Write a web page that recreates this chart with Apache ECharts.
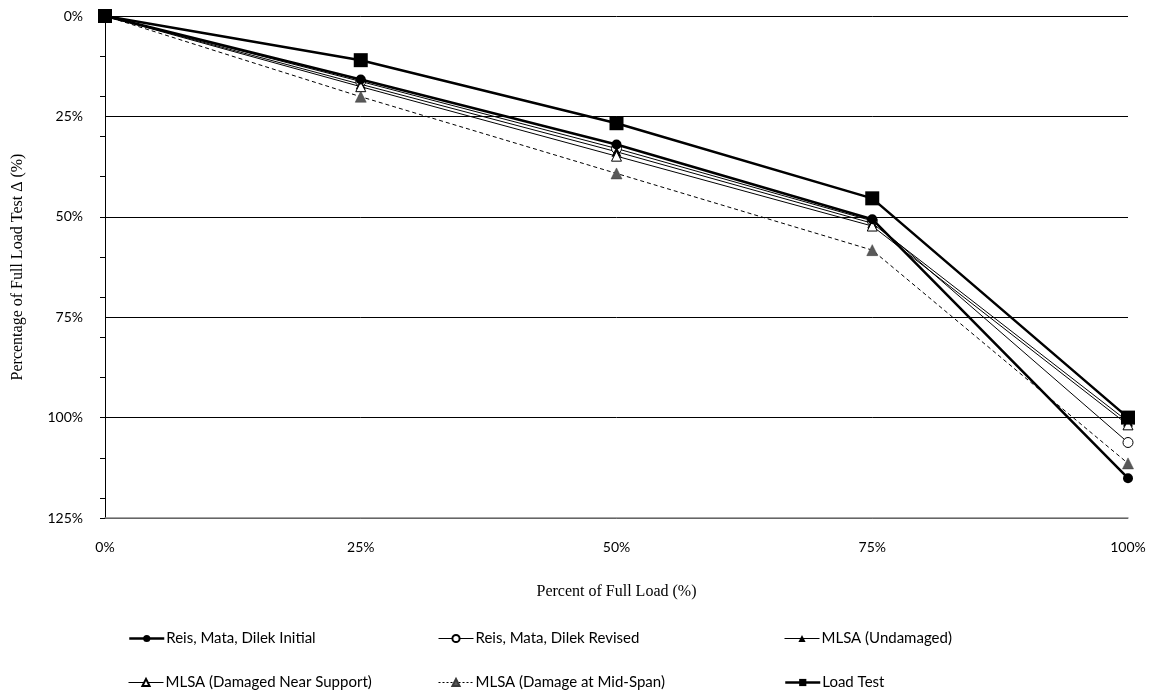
<!DOCTYPE html>
<html>
<head>
<meta charset="utf-8">
<script src="https://cdn.jsdelivr.net/npm/echarts@6/dist/echarts.min.js"></script>
<style>
  html, body { margin: 0; padding: 0; background: #ffffff; }
  #chart { width: 1160px; height: 700px; }
</style>
</head>
<body>
<div id="chart"></div>
<script>
// Load steps (percent of full load) and the deflection each method predicts,
// as a percentage of the full-load test deflection.
const loadSteps = [0, 25, 50, 75, 100];
const reisInitial = [0, 15.8, 32.0, 50.6, 115.1];
const reisRevised = [0, 16.3, 33.0, 51.0, 106.2];
const mlsaUndamaged = [0, 17.0, 33.8, 51.6, 101.0];
const mlsaNearSupport = [0, 17.6, 34.9, 52.3, 101.8];
const mlsaMidSpan = [0, 20.1, 39.2, 58.3, 111.4];
const loadTest = [0, 11.0, 26.7, 45.4, 100.0];

const names = [
  'Reis, Mata, Dilek Initial',
  'Reis, Mata, Dilek Revised',
  'MLSA (Undamaged)',
  'MLSA (Damaged Near Support)',
  'MLSA (Damage at Mid-Span)',
  'Load Test'
];

const labelFont = 'Lato, "Open Sans", sans-serif';
const titleFont = '"Liberation Serif", "DejaVu Serif", serif';

const THICK = 2.5;
const THIN = 1;

function pairs(values) {
  return loadSteps.map((x, i) => [x, values[i]]);
}

function makeSeries(name, values, opts) {
  return Object.assign({
    name: name,
    type: 'line',
    data: pairs(values),
    symbolKeepAspect: true,
    showSymbol: true,
    animation: false,
    emphasis: { disabled: true }
  }, opts);
}

const series = [
  makeSeries(names[1], reisRevised, {
    symbol: 'circle', symbolSize: 10, z: 3,
    lineStyle: { color: '#000', width: THIN },
    itemStyle: { color: '#fff', borderColor: '#000', borderWidth: 1 }
  }),
  makeSeries(names[2], mlsaUndamaged, {
    symbol: 'triangle', symbolSize: 10, z: 3,
    lineStyle: { color: '#000', width: THIN },
    itemStyle: { color: '#000', borderColor: '#000', borderWidth: 0 }
  }),
  makeSeries(names[3], mlsaNearSupport, {
    symbol: 'triangle', symbolSize: 10, z: 3,
    lineStyle: { color: '#000', width: THIN },
    itemStyle: { color: '#fff', borderColor: '#000', borderWidth: 1 }
  }),
  makeSeries(names[4], mlsaMidSpan, {
    symbol: 'triangle', symbolSize: 11, z: 3,
    lineStyle: { color: '#000', width: THIN, type: [4, 3] },
    itemStyle: { color: '#595959', borderColor: '#3a3a3a', borderWidth: 0.5 }
  }),
  makeSeries(names[0], reisInitial, {
    symbol: 'circle', symbolSize: 10, z: 4,
    lineStyle: { color: '#000', width: THICK },
    itemStyle: { color: '#000', borderColor: '#000', borderWidth: 0 }
  }),
  makeSeries(names[5], loadTest, {
    symbol: 'rect', symbolSize: 14, z: 5,
    lineStyle: { color: '#000', width: THICK },
    itemStyle: { color: '#000', borderColor: '#000', borderWidth: 0 }
  })
];

// One legend block per entry so the two rows line up in three columns.
const legendSpots = [
  [128, 631], [438, 631], [784, 631],
  [128, 675], [438, 675], [784, 675]
];
const legendWidths = [THICK, THIN, THIN, THIN, THIN, THICK];
const legendDash = ['solid', 'solid', 'solid', 'solid', [2, 2], 'solid'];
const legends = names.map((n, i) => ({
  data: [{ name: n, lineStyle: { width: legendWidths[i], type: legendDash[i], color: '#000' } }],
  left: legendSpots[i][0],
  top: legendSpots[i][1],
  orient: 'horizontal',
  itemWidth: 35,
  itemHeight: 9,
  itemGap: 0,
  selectedMode: false,
  padding: 0,
  textStyle: { fontFamily: labelFont, fontSize: 15, color: '#000', padding: [0, 0, 0, -3] }
}));

const chart = echarts.init(document.getElementById('chart'), null, { renderer: 'canvas' });
chart.setOption({
  backgroundColor: '#ffffff',
  animation: false,
  grid: { left: 105, right: 32, top: 16, bottom: 182, containLabel: false },
  legend: legends,
  xAxis: {
    type: 'value',
    min: 0, max: 100, interval: 25,
    name: 'Percent of Full Load (%)',
    nameLocation: 'middle',
    nameGap: 66,
    nameTextStyle: { fontFamily: titleFont, fontSize: 16, color: '#000' },
    axisLine: { show: true, onZero: false, lineStyle: { color: '#868686', width: 1.5 } },
    axisTick: { show: false },
    splitLine: { show: false },
    axisLabel: {
      formatter: '{value}%', margin: 22,
      fontFamily: labelFont, fontSize: 14, color: '#000'
    }
  },
  yAxis: [
    {
      // fine tick marks every 10%
      type: 'value', inverse: true,
      min: 0, max: 125, interval: 10,
      position: 'left',
      axisLine: { show: true, onZero: false, lineStyle: { color: '#000', width: 1 } },
      axisTick: { show: true, inside: false, length: 5, lineStyle: { color: '#000', width: 1 } },
      axisLabel: { show: false },
      splitLine: { show: false }
    },
    {
      // labelled gridlines every 25%
      type: 'value', inverse: true,
      min: 0, max: 125, interval: 25,
      position: 'left',
      name: 'Percentage of Full Load Test \u0394 (%)',
      nameLocation: 'middle',
      nameGap: 79,
      nameRotate: 90,
      nameTextStyle: { fontFamily: titleFont, fontSize: 16, color: '#000' },
      axisLine: { show: false },
      axisTick: { show: false },
      axisLabel: {
        formatter: '{value}%', margin: 22,
        fontFamily: labelFont, fontSize: 14, color: '#000'
      },
      splitLine: { show: true, lineStyle: { color: '#000', width: 1 } }
    }
  ],
  series: series
});
</script>
</body>
</html>
